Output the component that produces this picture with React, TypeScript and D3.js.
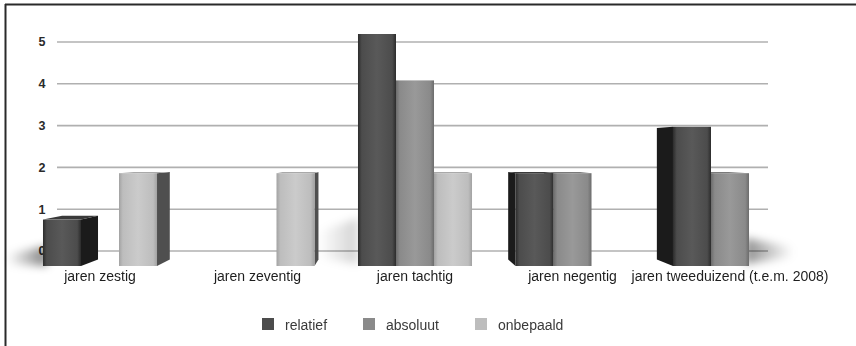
import React from "react";
import * as d3 from "d3";

const W = 856;
const H = 346;

const categories = [
  "jaren zestig",
  "jaren zeventig",
  "jaren tachtig",
  "jaren negentig",
  "jaren tweeduizend (t.e.m. 2008)",
];
const seriesNames = ["relatief", "absoluut", "onbepaald"];
const relatief = [1, 0, 5, 2, 3];
const absoluut = [0, 0, 4, 2, 2];
const onbepaald = [2, 2, 2, 0, 0];
const yTicks = [0, 1, 2, 3, 4, 5];

const seriesValues = [relatief, absoluut, onbepaald];

// face shades per series: front edge, front base, front highlight, side face
const shades = [
  { edge: "#2c2c2c", base: "#4c4c4c", light: "#595959", side: "#1b1b1b", top: "#3a3a3a" },
  { edge: "#6c6c6c", base: "#8a8a8a", light: "#999999", side: "#4a4a4a", top: "#7a7a7a" },
  { edge: "#a2a2a2", base: "#bdbdbd", light: "#cbcbcb", side: "#4f4f4f", top: "#a9a9a9" },
];

// perspective: vanishing point and depth factor
const VX = 385;
const VY = 150;
const DEPTH = 0.056;

const recede = (x: number, y: number): [number, number] => [
  x + DEPTH * (VX - x),
  y + DEPTH * (VY - y),
];

export default function App() {
  const yGrid = d3.scaleLinear().domain([0, 5]).range([251, 42]);
  const yBar = d3.scaleLinear().domain([0, 5]).range([266, 34]);
  const x0 = d3
    .scaleBand<string>()
    .domain(categories)
    .range([21.25, 808.75])
    .paddingInner(0.276)
    .paddingOuter(0.138);
  const x1 = d3
    .scaleBand<string>()
    .domain(seriesNames)
    .range([0, x0.bandwidth()])
    .padding(0);

  type Bar = { key: string; s: number; xl: number; xr: number; yt: number; yb: number };
  const bars: Bar[] = [];
  categories.forEach((c, ci) => {
    seriesNames.forEach((s, si) => {
      const v = seriesValues[si][ci];
      if (!v) return;
      const xl = (x0(c) as number) + (x1(s) as number);
      bars.push({
        key: `${ci}-${si}`,
        s: si,
        xl,
        xr: xl + x1.bandwidth(),
        yt: yBar(v),
        yb: yBar(0),
      });
    });
  });

  const poly = (pts: [number, number][]) => pts.map((p) => p.join(",")).join(" ");

  const sideFaces = bars.map((b) => {
    let edge: number | null = null;
    if (b.xr < VX) edge = b.xr;
    else if (b.xl > VX) edge = b.xl;
    if (edge === null) return null;
    const t = recede(edge, b.yt);
    const bt = recede(edge, b.yb);
    return (
      <polygon
        key={"side" + b.key}
        points={poly([[edge, b.yt], t, bt, [edge, b.yb]])}
        fill={shades[b.s].side}
      />
    );
  });

  const topFaces = bars.map((b) => {
    const bl = recede(b.xl, b.yt);
    const br = recede(b.xr, b.yt);
    if (bl[1] >= b.yt) return null;
    return (
      <polygon
        key={"top" + b.key}
        points={poly([[b.xl, b.yt], [b.xr, b.yt], br, bl])}
        fill={shades[b.s].top}
      />
    );
  });

  // outer edges of the outermost drawn bars, used for the floor shadows
  const leftEdge = d3.min(bars, (b) => b.xl) as number;
  const rightEdge = d3.max(bars, (b) => b.xr) as number;
  const midEdge = x0(categories[2]) as number;
  const base = yBar(0);

  const legendX = [262, 363, 475];

  return (
    <svg
      width={W}
      height={H}
      style={{ position: "absolute", left: 0, top: 0, background: "#fff" }}
      fontFamily="Liberation Sans, Arial, Helvetica, sans-serif"
    >
      <defs>
        <filter id="soft" x="-50%" y="-50%" width="200%" height="200%">
          <feGaussianBlur stdDeviation="4.5" />
        </filter>
        <linearGradient id="shadeL" x1="1" x2="0" y1="0" y2="0">
          <stop offset="0" stopColor="#000" stopOpacity={0.5} />
          <stop offset="1" stopColor="#000" stopOpacity={0} />
        </linearGradient>
        <linearGradient id="shadeR" x1="0" x2="1" y1="0" y2="0">
          <stop offset="0" stopColor="#000" stopOpacity={0.45} />
          <stop offset="1" stopColor="#000" stopOpacity={0} />
        </linearGradient>
        {shades.map((sh, i) => (
          <linearGradient key={i} id={"front" + i} x1="0" x2="1" y1="0" y2="0">
            <stop offset="0" stopColor={sh.edge} />
            <stop offset="0.1" stopColor={sh.base} />
            <stop offset="0.5" stopColor={sh.light} />
            <stop offset="0.9" stopColor={sh.base} />
            <stop offset="1" stopColor={sh.edge} />
          </linearGradient>
        ))}
      </defs>

      <rect x={0} y={0} width={W} height={H} fill="#fff" />
      <line x1={5} x2={W} y1={4.5} y2={4.5} stroke="#2a2a2a" strokeWidth={2} />
      <line x1={5.5} x2={5.5} y1={4} y2={H} stroke="#2a2a2a" strokeWidth={2} />

      {/* grid lines */}
      {yTicks.map((t) => (
        <line
          key={"g" + t}
          x1={57}
          x2={768}
          y1={yGrid(t)}
          y2={yGrid(t)}
          stroke="#b0b0b0"
          strokeWidth={1.6}
        />
      ))}
      {yTicks.map((t) => (
        <text
          key={"t" + t}
          x={45.5}
          y={yGrid(t) + 4.4}
          textAnchor="end"
          fontSize={12.5}
          fontWeight="bold"
          fill="#2a2a2a"
        >
          {t}
        </text>
      ))}

      {/* floor shadows */}
      <g filter="url(#soft)">
        <polygon
          points={poly([
            [leftEdge + 4, base - 20],
            [leftEdge + 4, base],
            [leftEdge - 36, base - 2],
            [leftEdge - 36, base - 12],
          ])}
          fill="url(#shadeL)"
        />
        <polygon
          points={poly([
            [midEdge, base - 48],
            [midEdge, base - 2],
            [midEdge - 40, base - 8],
            [midEdge - 40, base - 34],
          ])}
          fill="url(#shadeL)"
          opacity={0.35}
        />
        <polygon
          points={poly([
            [rightEdge - 4, base - 28],
            [rightEdge - 4, base - 2],
            [rightEdge + 44, base - 9],
            [rightEdge + 44, base - 19],
          ])}
          fill="url(#shadeR)"
        />
      </g>

      {sideFaces}
      {topFaces}
      {bars.map((b) => (
        <rect
          key={"front" + b.key}
          x={b.xl}
          y={b.yt}
          width={b.xr - b.xl}
          height={b.yb - b.yt}
          fill={`url(#front${b.s})`}
        />
      ))}

      {categories.map((c) => (
        <text
          key={"c" + c}
          x={(x0(c) as number) + x0.bandwidth() / 2}
          y={280.5}
          textAnchor="middle"
          fontSize={14}
          fill="#1e1e1e"
        >
          {c}
        </text>
      ))}

      {seriesNames.map((s, i) => (
        <g key={"l" + s}>
          <rect x={legendX[i]} y={318} width={12} height={12} fill={shades[i].base} />
          <text x={legendX[i] + 23} y={329.5} fontSize={14} fill="#3a3a3a">
            {s}
          </text>
        </g>
      ))}
    </svg>
  );
}
